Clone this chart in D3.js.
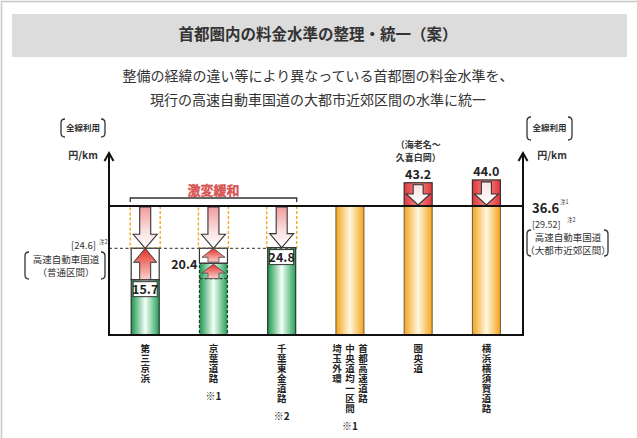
<!DOCTYPE html>
<html><head><meta charset="utf-8">
<script src="https://cdn.jsdelivr.net/npm/d3@7"></script>
<style>
body{margin:0;background:#fff;}
svg{display:block;}
text{font-family:"Noto Sans CJK JP","Noto Sans",sans-serif;}
</style>
</head><body>
<svg id="c" width="637" height="438"></svg>
<script>
// ---------------- data ----------------
const categories = ["第三京浜","京葉道路","千葉東金道路","首都高速道路・中央道均一区間・埼玉外環","圏央道","横浜横須賀道路"];
const labelColumns = [["第三京浜"],["京葉道路"],["千葉東金道路"],["首都高速道路","中央道均一区間","埼玉外環"],["圏央道"],["横浜横須賀道路"]];
const notes = ["","※1","※2","※1","",""];
const values = [15.7, 20.4, 24.8, 36.6, 43.2, 44.0];
const stepValues = [null, 16.0, null, null, null, null];
const valueLabels = ["15.7","20.4","24.8","","43.2","44.0"];
const groups = ["mitigation","mitigation","mitigation","unified","unified","unified"];
const unifiedLevel = 36.6;
const ordinaryLevel = 24.6;
const metroOldLabel = "[29.52]";
const sectionNote = ["（海老名～","久喜白岡）"];
const titleText = "首都圏内の料金水準の整理・統一（案）";
const subtitleLines = ["整備の経緯の違い等により異なっている首都圏の料金水準を、","現行の高速自動車国道の大都市近郊区間の水準に統一"];
const mitigationLabel = "激変緩和";

// ---------------- setup ----------------
const svg = d3.select("#c");
const W = 637, H = 438;
const leftX = 109, rightX = 523, axisTop = 153;
const barW = 28;

const x = d3.scalePoint().domain(categories).range([145.2, 486.4]);
const y = d3.scaleLinear().domain([0, unifiedLevel]).range([335, 206]);

const defs = svg.append("defs");
function hGrad(id, stops){
  const g = defs.append("linearGradient").attr("id", id).attr("x1",0).attr("x2",1).attr("y1",0).attr("y2",0);
  stops.forEach(s=>g.append("stop").attr("offset",s[0]).attr("stop-color",s[1]));
}
function vGrad(id, stops){
  const g = defs.append("linearGradient").attr("id", id).attr("x1",0).attr("x2",0).attr("y1",0).attr("y2",1);
  stops.forEach(s=>g.append("stop").attr("offset",s[0]).attr("stop-color",s[1]));
}
hGrad("green", [[0,"#1b964c"],[0.5,"#f3fff7"],[1,"#22a056"]]);
hGrad("orange", [[0,"#f4a41c"],[0.5,"#fff7df"],[1,"#f4a41c"]]);
hGrad("redcap", [[0,"#e2353a"],[0.5,"#f58a86"],[1,"#e2353a"]]);
vGrad("pink", [[0,"#f29c9c"],[0.6,"#fbe1e1"],[1,"#ffffff"]]);
vGrad("pinkin", [[0,"#fbe3e3"],[1,"#ffffff"]]);
vGrad("redup", [[0,"#e42f27"],[1,"#fbd3cf"]]);

// outer frame
svg.append("path").attr("d",`M1.5,${H} L1.5,1.5 L${W},1.5`).attr("fill","none").attr("stroke","#c8c8c8").attr("stroke-width",1.5);

// header
svg.append("rect").attr("x",12).attr("y",14).attr("width",615).attr("height",43).attr("fill","#dcdcdc");
svg.append("text").attr("x",318).attr("y",40).attr("text-anchor","middle")
  .attr("font-size",15.5).attr("font-weight","bold").attr("fill","#333").text(titleText);
subtitleLines.forEach((t,i)=>{
  svg.append("text").attr("x",318).attr("y",81+i*24).attr("text-anchor","middle")
    .attr("font-size",14).attr("fill","#333").text(t);
});

// helpers
function downArrow(cx, yTop, yTip, sw, hw, hh){
  return `M${cx-sw/2},${yTop} L${cx+sw/2},${yTop} L${cx+sw/2},${yTip-hh} L${cx+hw/2},${yTip-hh} L${cx},${yTip} L${cx-hw/2},${yTip-hh} L${cx-sw/2},${yTip-hh} Z`;
}
function upArrow(cx, yBot, yTip, sw, hw, hh){
  return `M${cx-sw/2},${yBot} L${cx+sw/2},${yBot} L${cx+sw/2},${yTip+hh} L${cx+hw/2},${yTip+hh} L${cx},${yTip} L${cx-hw/2},${yTip+hh} L${cx-sw/2},${yTip+hh} Z`;
}
function bracket(x0, x1, y0, y1){
  const r = 4;
  const g = svg.append("g").attr("fill","none").attr("stroke","#333").attr("stroke-width",1.3);
  g.append("path").attr("d",`M${x0+r},${y0} Q${x0},${y0} ${x0},${y0+r} L${x0},${y1-r} Q${x0},${y1} ${x0+r},${y1}`);
  g.append("path").attr("d",`M${x1-r},${y0} Q${x1},${y0} ${x1},${y0+r} L${x1},${y1-r} Q${x1},${y1} ${x1-r},${y1}`);
}

// ---------------- bars ----------------
const g = svg.append("g");
categories.forEach((c,i)=>{
  const cx = x(c), v = values[i];
  const x0 = cx - barW/2;
  if(groups[i]==="mitigation"){
    const tip = Math.max(ordinaryLevel, v);
    g.append("rect").attr("x",x0-1).attr("y",y(unifiedLevel)).attr("width",barW+2)
      .attr("height",y(tip) - y(unifiedLevel))
      .attr("fill","none").attr("stroke","#f5a623").attr("stroke-width",1.4).attr("stroke-dasharray","3,2");
    const gb = g.append("rect").attr("x",x0).attr("y",y(v)).attr("width",barW).attr("height",y(0)-y(v))
      .attr("fill","url(#green)").attr("stroke","#333").attr("stroke-width",1.2);
    if(stepValues[i]!==null){
      gb.attr("stroke-dasharray","3,2");
      g.append("line").attr("x1",x0).attr("x2",x0+barW).attr("y1",y(stepValues[i])).attr("y2",y(stepValues[i]))
        .attr("stroke","#333").attr("stroke-width",1.2).attr("stroke-dasharray","3,2");
      g.append("line").attr("x1",x0).attr("x2",x0+barW).attr("y1",y(v)).attr("y2",y(v))
        .attr("stroke","#333").attr("stroke-width",1.4);
    }
    if(v < ordinaryLevel){
      g.append("rect").attr("x",x0).attr("y",y(ordinaryLevel)).attr("width",barW).attr("height",y(v)-y(ordinaryLevel))
        .attr("fill","#fff").attr("stroke","#333").attr("stroke-width",1.2);
      if(stepValues[i]!==null){
        g.append("path").attr("d",upArrow(cx, y(stepValues[i]), y(v)+1, 11, 23, 9))
          .attr("fill","url(#redup)").attr("stroke","#444").attr("stroke-width",0.8);
        g.append("path").attr("d",upArrow(cx, y(v)-1, y(ordinaryLevel), 11, 23, 9))
          .attr("fill","url(#redup)").attr("stroke","#444").attr("stroke-width",0.8);
      } else {
        g.append("path").attr("d",upArrow(cx, y(v), y(ordinaryLevel), 11, 23, 14))
          .attr("fill","url(#redup)").attr("stroke","#333").attr("stroke-width",1);
      }
    }
    g.append("path").attr("d",downArrow(cx, y(unifiedLevel)+1, y(tip), 11, 24, 14))
      .attr("fill","url(#pink)").attr("stroke","#333").attr("stroke-width",1.1);
  } else {
    const top = Math.min(v, unifiedLevel);
    g.append("rect").attr("x",x0).attr("y",y(top)).attr("width",barW).attr("height",y(0)-y(top))
      .attr("fill","url(#orange)").attr("stroke","#6b5a3a").attr("stroke-width",1);
    if(v > unifiedLevel){
      g.append("rect").attr("x",x0).attr("y",y(v)).attr("width",barW).attr("height",y(unifiedLevel)-y(v))
        .attr("fill","url(#redcap)").attr("stroke","#333").attr("stroke-width",1.2);
      g.append("path").attr("d",downArrow(cx, y(v)+2, y(unifiedLevel)-1, 10, 24, 11))
        .attr("fill","url(#pinkin)").attr("stroke","#333").attr("stroke-width",1.1);
    }
  }
});

// value labels
categories.forEach((c,i)=>{
  const cx = x(c), v = values[i], lab = valueLabels[i];
  if(!lab) return;
  if(groups[i]==="unified"){
    svg.append("text").attr("x",cx).attr("y",y(v)-4).attr("text-anchor","middle")
      .attr("font-size",12.5).attr("font-weight","bold").attr("fill","#222").text(lab);
  } else if(stepValues[i]!==null){
    svg.append("text").attr("x",cx-barW/2-2).attr("y",y(v)+6).attr("text-anchor","end")
      .attr("font-size",12.5).attr("font-weight","bold").attr("fill","#222").text(lab);
  } else {
    svg.append("rect").attr("x",cx-12).attr("y",y(v)+2).attr("width",24).attr("height",15)
      .attr("fill","#fff").attr("stroke","#333").attr("stroke-width",1);
    svg.append("text").attr("x",cx).attr("y",y(v)+14).attr("text-anchor","middle")
      .attr("font-size",12.5).attr("font-weight","bold").attr("fill","#222").text(lab);
  }
});

// section note above 圏央道
sectionNote.forEach((t,i)=>{
  svg.append("text").attr("x",x(categories[4])).attr("y",148+i*12.5).attr("text-anchor","middle")
    .attr("font-size",9).attr("font-weight","bold").attr("fill","#333").text(t);
});

// ---------------- reference lines / axes ----------------
svg.append("line").attr("x1",leftX).attr("x2",x(categories[2])+barW/2+1).attr("y1",y(ordinaryLevel)).attr("y2",y(ordinaryLevel))
  .attr("stroke","#555").attr("stroke-width",1.3).attr("stroke-dasharray","3,2.5");
svg.append("line").attr("x1",leftX).attr("x2",rightX).attr("y1",y(unifiedLevel)).attr("y2",y(unifiedLevel))
  .attr("stroke","#111").attr("stroke-width",2);
svg.append("line").attr("x1",leftX-1).attr("x2",rightX+1).attr("y1",y(0)).attr("y2",y(0))
  .attr("stroke","#111").attr("stroke-width",2);
[leftX, rightX].forEach(ax=>{
  svg.append("line").attr("x1",ax).attr("x2",ax).attr("y1",y(0)).attr("y2",axisTop+1).attr("stroke","#111").attr("stroke-width",2);
  svg.append("path").attr("d",`M${ax-4.5},${axisTop+8} L${ax},${axisTop} L${ax+4.5},${axisTop+8}`)
    .attr("fill","none").attr("stroke","#111").attr("stroke-width",2);
});

// brace 激変緩和
const bx0 = x(categories[0]) - barW/2 - 1, bx1 = x(categories[2]) + barW/2 + 1;
svg.append("path").attr("d",`M${bx0},${y(unifiedLevel)-4} L${bx0},${y(unifiedLevel)-8} L${bx1},${y(unifiedLevel)-8} L${bx1},${y(unifiedLevel)-4}`)
  .attr("fill","none").attr("stroke","#333").attr("stroke-width",1.3);
svg.append("text").attr("x",(bx0+bx1)/2).attr("y",y(unifiedLevel)-11).attr("text-anchor","middle")
  .attr("font-size",13).attr("font-weight","bold").attr("fill","#e05858").attr("stroke","#c94040").attr("stroke-width",0.3)
  .text(mitigationLabel);

// ---------------- side annotations ----------------
// left
bracket(61, 105, 119, 137);
svg.append("text").attr("x",83).attr("y",131).attr("text-anchor","middle").attr("font-size",8.5).attr("font-weight","bold").attr("fill","#333").text("全線利用");
svg.append("text").attr("x",83).attr("y",159).attr("text-anchor","middle").attr("font-size",10).attr("font-weight","bold").attr("fill","#333").text("円/km");
svg.append("text").attr("x",96).attr("y",y(ordinaryLevel)+1).attr("text-anchor","end").attr("font-size",9.5).attr("fill","#333").text(`[${ordinaryLevel}]`);
svg.append("text").attr("x",99).attr("y",y(ordinaryLevel)-4).attr("font-size",5.5).attr("fill","#333").text("注2");
bracket(25, 105, 252, 279);
svg.append("text").attr("x",66).attr("y",263).attr("text-anchor","middle").attr("font-size",9.5).attr("fill","#333").text("高速自動車国道");
svg.append("text").attr("x",66).attr("y",276).attr("text-anchor","middle").attr("font-size",9.5).attr("fill","#333").text("（普通区間）");

// right
bracket(527, 572, 117, 140);
svg.append("text").attr("x",549.5).attr("y",131).attr("text-anchor","middle").attr("font-size",8.5).attr("font-weight","bold").attr("fill","#333").text("全線利用");
svg.append("text").attr("x",552).attr("y",159).attr("text-anchor","middle").attr("font-size",10).attr("font-weight","bold").attr("fill","#333").text("円/km");
svg.append("text").attr("x",532).attr("y",y(unifiedLevel)+7).attr("font-size",13).attr("font-weight","bold").attr("fill","#222").text(unifiedLevel.toFixed(1));
svg.append("text").attr("x",560).attr("y",y(unifiedLevel)-2).attr("font-size",5.5).attr("fill","#333").text("注1");
svg.append("text").attr("x",532).attr("y",y(unifiedLevel)+22).attr("font-size",9).attr("fill","#333").text(metroOldLabel);
svg.append("text").attr("x",567).attr("y",y(unifiedLevel)+16).attr("font-size",5.5).attr("fill","#333").text("注2");
bracket(527, 608, 230, 256);
svg.append("text").attr("x",568).attr("y",241).attr("text-anchor","middle").attr("font-size",9.5).attr("fill","#333").text("高速自動車国道");
svg.append("text").attr("x",568).attr("y",254).attr("text-anchor","middle").attr("font-size",9.5).attr("fill","#333").text("（大都市近郊区間）");

// ---------------- category labels (vertical, one character per text) ----------------
const charStep = 10, labelTop = 348, labelFont = 9.5;
categories.forEach((c,i)=>{
  const cols = labelColumns[i], n = cols.length;
  cols.forEach((col,j)=>{
    const cx = x(c) + ((n-1)/2 - j) * 13;
    Array.from(col).forEach((ch,k)=>{
      svg.append("text").attr("x",cx).attr("y",labelTop + k*charStep + 4).attr("text-anchor","middle")
        .attr("font-size",labelFont).attr("font-weight","bold").attr("fill","#222").text(ch);
    });
  });
  if(notes[i]){
    const maxLen = d3.max(cols, s=>Array.from(s).length);
    svg.append("text").attr("x",x(c)).attr("y",labelTop + maxLen*charStep + 12).attr("text-anchor","middle")
      .attr("font-size",10).attr("font-weight","bold").attr("fill","#222").text(notes[i]);
  }
});
</script>
</body></html>
